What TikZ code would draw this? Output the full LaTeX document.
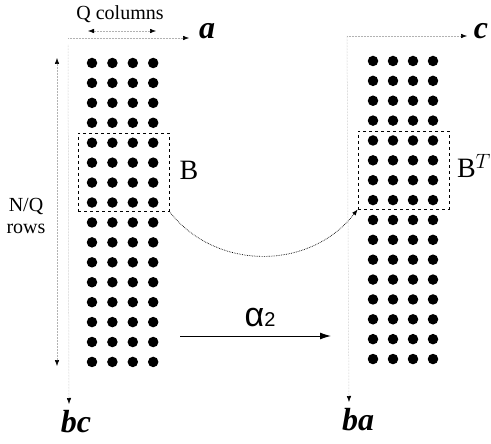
\documentclass[tikz,border=0pt]{standalone}
\usepackage{fontspec}
\setmainfont{Liberation Serif}
\newfontfamily\sansalpha{Liberation Sans}
\usetikzlibrary{arrows.meta}
\begin{document}
\begin{tikzpicture}[x=1pt,y=-1pt,
  dotnode/.style={circle,fill=black,inner sep=0pt,minimum size=10.5pt},
  faint/.style={densely dotted,gray!60,line width=0.5pt},
  tipd/.style={-{Latex[length=6pt,width=4.5pt,color=black]}},
  tipdd/.style={{Latex[length=6pt,width=4.5pt,color=black]}-{Latex[length=6pt,width=4.5pt,color=black]}},
  boxd/.style={draw,dashed,line width=0.7pt},
  lbl/.style={inner sep=0pt,font=\fontsize{20}{22}\selectfont},
  big/.style={inner sep=0pt,font=\fontsize{28}{30}\selectfont},
  ital/.style={inner sep=0pt,font=\fontsize{32}{34}\selectfont\itshape\bfseries}]
\useasboundingbox (0,0) rectangle (491,444);
% dots
\foreach \r in {0,...,15}{
  \foreach \c in {0,...,3}{
    \node[dotnode] (L-\r-\c) at ({92+20.4*\c},{63+19.93*\r}) {};
    \node[dotnode] (R-\r-\c) at ({373+20*\c},{61+19.87*\r}) {};
  }
}
% boxes
\node[boxd,minimum width=91pt,minimum height=78pt,inner sep=0pt] (BL) at (123.5,172) {};
\node[boxd,minimum width=91pt,minimum height=78pt,inner sep=0pt] (BR) at (403.5,170) {};
\node[big] (labB) at (189,170) {B};
\node[big] (labBT) at (474,166) {B$^{T}$};
% curve
\draw[densely dotted,line width=0.7pt,tipd] (BL.south east) .. controls (215,271) and (310,271) .. (BR.south west);
% top left
\node[lbl] (qcol) at (120,14) {Q columns};
\coordinate (qa) at (88,31);
\coordinate (qb) at (156,31);
\draw[faint,tipdd] (qa) -- (qb);
\coordinate (ha0) at (68,38);
\coordinate (ha1) at (189,38);
\draw[faint,tipd] (ha0) -- (ha1);
\node[ital] (la) at (207,31) {a};
% top right
\coordinate (hc0) at (347,36);
\coordinate (hc1) at (467,36);
\draw[faint,tipd] (hc0) -- (hc1);
\node[ital] (lc) at (481,31) {c};
% left vertical
\coordinate (v0) at (57,58);
\coordinate (v1) at (57,366);
\draw[faint,tipdd] (v0) -- (v1);
\node[lbl,align=center] (nq) at (26,216) {N/Q\\rows};
\coordinate (vb0) at (68,45);
\coordinate (vb1) at (69,404);
\draw[faint,tipd] (vb0) -- (vb1);
\node[ital] (lbc) at (76,422) {bc};
% right vertical
\coordinate (vr0) at (347,36);
\coordinate (vr1) at (349,402);
\draw[faint,tipd] (vr0) -- (vr1);
\node[ital] (lba) at (358,420) {ba};
% alpha arrow
\coordinate (al0) at (180,336);
\coordinate (al1) at (331,336);
\draw[line width=1pt,-{Latex[length=11pt,width=7pt]}] (al0) -- (al1);
\node[inner sep=0pt] (alpha) at (260,318) {{\sansalpha\fontsize{34}{36}\selectfont α}{\sansalpha\fontsize{20}{22}\selectfont 2}};
\end{tikzpicture}
\end{document}
